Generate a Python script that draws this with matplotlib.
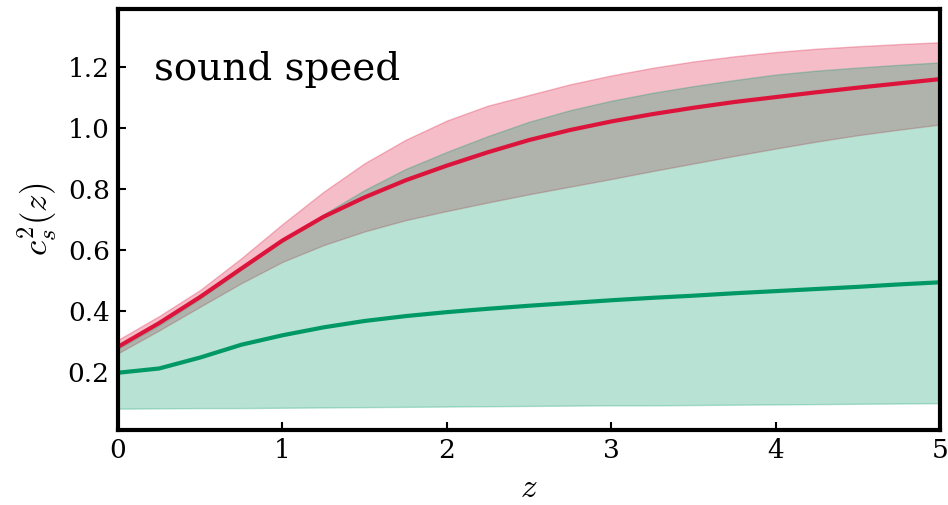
import matplotlib.pyplot as plt

plt.rcParams['font.family'] = 'DejaVu Serif'
plt.rcParams['mathtext.fontset'] = 'cm'

z = [0.0, 0.25, 0.5, 0.75, 1.0, 1.25, 1.5, 1.75, 2.0, 2.25, 2.5,
     2.75, 3.0, 3.25, 3.5, 3.75, 4.0, 4.25, 4.5, 4.75, 5.0]

# red model: median and band
red_med = [0.281, 0.359, 0.445, 0.538, 0.630, 0.708, 0.772, 0.828, 0.876, 0.920, 0.960,
           0.993, 1.021, 1.045, 1.066, 1.085, 1.101, 1.117, 1.132, 1.146, 1.160]
red_hi = [0.304, 0.382, 0.468, 0.572, 0.684, 0.790, 0.884, 0.961, 1.024, 1.073, 1.108,
          1.143, 1.172, 1.197, 1.218, 1.235, 1.249, 1.260, 1.268, 1.275, 1.281]
red_lo = [0.260, 0.335, 0.413, 0.490, 0.560, 0.615, 0.660, 0.697, 0.727, 0.755, 0.782,
          0.807, 0.832, 0.858, 0.883, 0.908, 0.932, 0.955, 0.976, 0.994, 1.011]

# green model: median and band
green_med = [0.196, 0.210, 0.246, 0.288, 0.319, 0.345, 0.366, 0.382, 0.395, 0.406, 0.416,
             0.425, 0.434, 0.442, 0.449, 0.457, 0.464, 0.471, 0.478, 0.486, 0.493]
green_hi = [0.275, 0.352, 0.440, 0.535, 0.630, 0.716, 0.796, 0.865, 0.921, 0.973, 1.020,
            1.058, 1.089, 1.115, 1.137, 1.157, 1.175, 1.188, 1.198, 1.207, 1.215]
green_lo = [0.078, 0.079, 0.080, 0.080, 0.081, 0.082, 0.083, 0.084, 0.085, 0.086, 0.087,
            0.088, 0.089, 0.089, 0.090, 0.091, 0.092, 0.093, 0.094, 0.095, 0.096]

red = '#dc143c'
green = '#009966'

fig, ax = plt.subplots(figsize=(9.48, 5.05), dpi=100)
fig.subplots_adjust(left=0.1245, right=0.9915, top=0.982, bottom=0.1485)

ax.fill_between(z, red_lo, red_hi, color=red, alpha=0.28)
ax.fill_between(z, green_lo, green_hi, color=green, alpha=0.28)
ax.plot(z, red_med, color=red, lw=3)
ax.plot(z, green_med, color=green, lw=3)

ax.set_xlim(0, 5)
ax.set_ylim(0.008, 1.39)
ax.set_xticks([0, 1, 2, 3, 4, 5])
ax.set_yticks([0.2, 0.4, 0.6, 0.8, 1.0, 1.2])
ax.tick_params(direction='in', length=6, width=1.5, labelsize=19, pad=6)
for s in ax.spines.values():
    s.set_linewidth(3)

ax.set_xlabel('$z$', fontsize=24, labelpad=6)
ax.set_ylabel('$c_s^2(z)$', fontsize=25, labelpad=6)
ax.text(0.044, 0.832, 'sound speed', transform=ax.transAxes, fontsize=28,
        va='baseline', ha='left')

plt.savefig('out.png')
